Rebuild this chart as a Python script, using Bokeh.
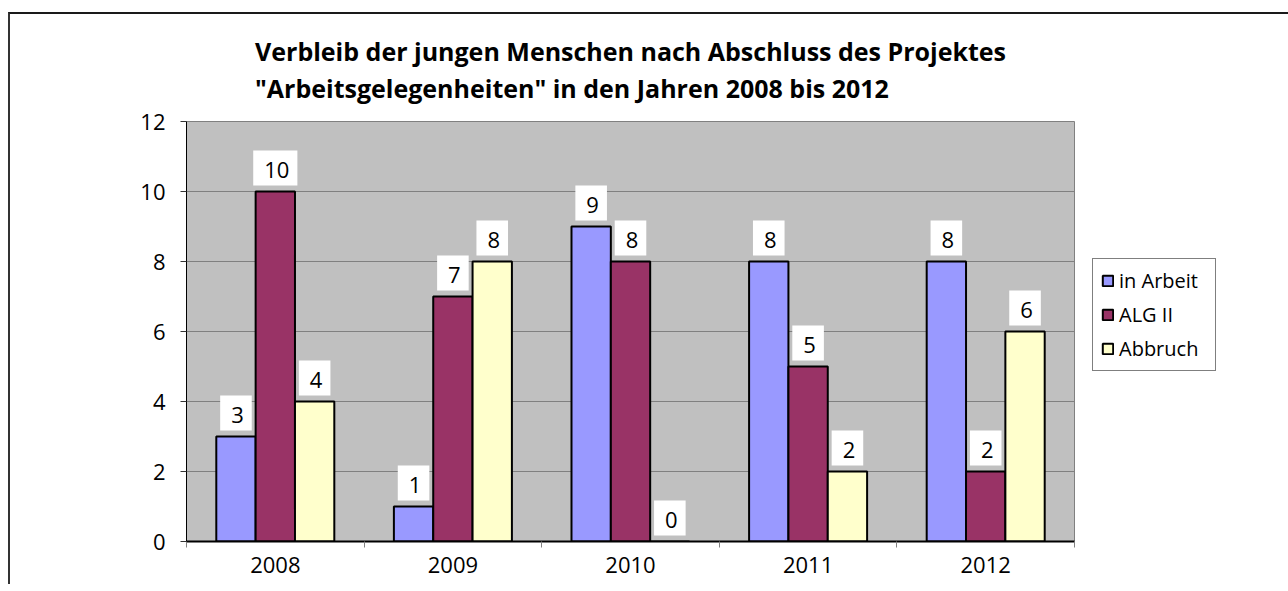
from bokeh.plotting import figure
from bokeh.models import (ColumnDataSource, FixedTicker, Legend, LegendItem, Range1d)
from bokeh.transform import dodge
from bokeh.core.properties import value
from bokeh.embed import file_html
from bokeh.resources import INLINE

years = ["2008", "2009", "2010", "2011", "2012"]
series_names = ["in Arbeit", "ALG II", "Abbruch"]
in_arbeit = [3, 1, 9, 8, 8]
alg_ii = [10, 7, 8, 5, 2]
abbruch = [4, 8, 0, 2, 6]
y_ticks = [0, 2, 4, 6, 8, 10, 12]
title_lines = ["Verbleib der jungen Menschen nach Abschluss des Projektes",
               "\"Arbeitsgelegenheiten\" in den Jahren 2008 bis 2012"]

colors = ["#9999FF", "#993366", "#FFFFCC"]
FONT = "Open Sans"

centers = [i + 0.5 for i in range(len(years))]
src = ColumnDataSource(dict(
    x=centers, a=in_arbeit, b=alg_ii, c=abbruch,
    ta=[str(v) for v in in_arbeit], tb=[str(v) for v in alg_ii], tc=[str(v) for v in abbruch],
))

p = figure(frame_width=888, frame_height=420, output_backend="svg", toolbar_location=None,
           x_range=Range1d(0, 5), y_range=Range1d(0, 12),
           min_border_left=176, min_border_right=200, min_border_top=107, min_border_bottom=43)
p.styles = {"border-top": "2px solid #1a1a1a", "border-left": "2px solid #333333",
            "margin-top": "12px", "margin-left": "8px"}
p.background_fill_color = "#C0C0C0"
p.border_fill_color = "white"
p.outline_line_color = "#808080"
p.outline_line_width = 1

# title (two lines)
p.title.text = "\n".join(title_lines)
p.title.align = "center"
p.title.text_font = FONT
p.title.text_font_size = "25px"
p.title.text_font_style = "bold"
p.title.text_color = "black"
p.title.text_line_height = 1.1
p.title.standoff = 33

bw = 0.2215
offsets = [-bw, 0.0, bw]
cols = ["a", "b", "c"]
tcols = ["ta", "tb", "tc"]
items = []
for off, col, tcol, colr, name in zip(offsets, cols, tcols, colors, series_names):
    r = p.vbar(x=dodge("x", off), top=col, width=bw, bottom=0, source=src,
               fill_color=colr, line_color="black", line_width=2)
    items.append(LegendItem(label=name, renderers=[r]))
    p.text(x=dodge("x", off), y=col, text=tcol, source=src,
           text_align="center", text_baseline="bottom", y_offset=-6,
           text_font=value(FONT), text_font_size="22px", text_color="black",
           background_fill_color="white", padding=(11, 8, 11, 8))

# axes
xa = p.xaxis[0]
xa.ticker = FixedTicker(ticks=centers, minor_ticks=[0, 1, 2, 3, 4, 5])
xa.major_label_overrides = {c: y for c, y in zip(centers, years)}
xa.major_tick_line_color = None
xa.major_tick_out = 0
xa.major_tick_in = 0
xa.minor_tick_out = 6
xa.minor_tick_in = 0
xa.minor_tick_line_color = "#808080"
xa.axis_line_color = "black"
xa.axis_line_width = 2
xa.major_label_standoff = 9
xa.major_label_text_font = FONT
xa.major_label_text_font_size = "22px"
xa.major_label_text_color = "black"

ya = p.yaxis[0]
ya.ticker = FixedTicker(ticks=y_ticks)
ya.minor_tick_line_color = None
ya.major_tick_out = 6
ya.major_tick_in = 0
ya.major_tick_line_color = "#333333"
ya.axis_line_color = "black"
ya.axis_line_width = 1
ya.major_label_standoff = 15
ya.major_label_text_font = FONT
ya.major_label_text_font_size = "22px"
ya.major_label_text_color = "black"

p.xgrid.grid_line_color = None
p.ygrid.grid_line_color = "#808080"
p.ygrid.grid_line_width = 1

legend = Legend(items=items, location=(18, 170), orientation="vertical",
                border_line_color="black", border_line_width=1,
                background_fill_color="white", background_fill_alpha=1,
                padding=8, spacing=7, margin=0,
                glyph_width=13, glyph_height=13, label_height=21,
                label_standoff=5, label_width=88,
                label_text_font=FONT, label_text_font_size="20px", label_text_color="black")
p.add_layout(legend, "right")

open("out.html", "w").write(file_html(p, INLINE))
